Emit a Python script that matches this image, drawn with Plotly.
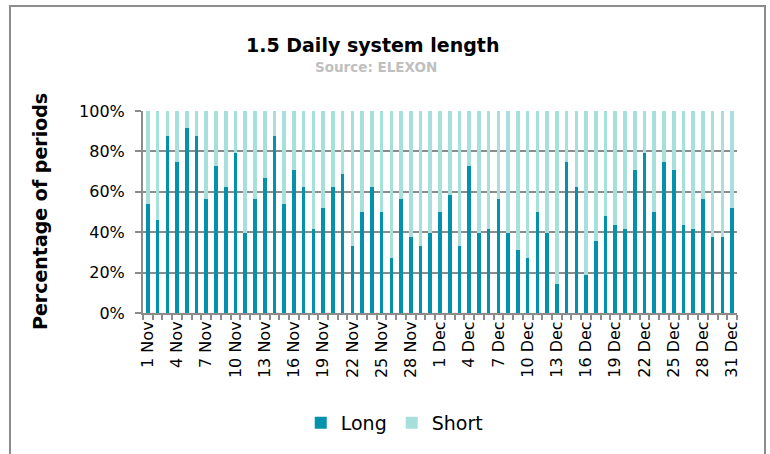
import plotly.graph_objects as go

days_nov = [f"{d} Nov" for d in range(1, 31)]
days_dec = [f"{d} Dec" for d in range(1, 32)]
categories = days_nov + days_dec

long_pct = [
    54.2, 45.8, 87.5, 75.0, 91.7, 87.5, 56.25, 72.9, 62.5, 79.2,
    39.6, 56.25, 66.7, 87.5, 54.2, 70.8, 62.5, 41.7, 52.1, 62.5,
    68.75, 33.3, 50.0, 62.5, 50.0, 27.1, 56.25, 37.5, 33.3, 39.6,
    50.0, 58.3, 33.3, 72.9, 39.6, 41.7, 56.25, 39.6, 31.25, 27.1,
    50.0, 39.6, 14.6, 75.0, 62.5, 18.75, 35.4, 47.9, 43.75, 41.7,
    70.8, 79.2, 50.0, 75.0, 70.8, 43.75, 41.7, 56.25, 37.5, 37.5,
    52.1,
]
short_pct = [100 - v for v in long_pct]
long_frac = [v / 100 for v in long_pct]
short_frac = [v / 100 for v in short_pct]

tick_labels = [c if i % 3 == 0 else "" for i, c in enumerate(categories)]

FONT = "Tahoma, 'DejaVu Sans', Verdana, sans-serif"
GRID = "#8c8c8c"

fig = go.Figure()
fig.add_trace(go.Bar(name="Long", x=categories, y=long_frac,
                     marker=dict(color="#0391ac", line=dict(width=0))))
fig.add_trace(go.Bar(name="Short", x=categories, y=short_frac,
                     marker=dict(color="#a6dfdb", line=dict(width=0))))

W, H = 770, 454
L, R, T, B = 143, 33, 111, 141
pw = W - L - R
ph = H - T - B

def px_x(x):
    return (x - L) / pw

def px_y(y):
    return (H - B - y) / ph

fig.update_layout(
    width=W, height=H,
    margin=dict(l=L, r=R, t=T, b=B),
    barmode="stack", bargap=0.63,
    paper_bgcolor="white", plot_bgcolor="white",
    font=dict(family=FONT, color="black", size=16),
    showlegend=True,
    legend=dict(orientation="h", xref="container", yref="container",
                x=0.512, y=1 - 423 / H, xanchor="center", yanchor="middle",
                font=dict(size=19, family=FONT), itemwidth=30,
                traceorder="normal"),
    xaxis=dict(
        type="category", tickmode="array", tickvals=categories,
        ticktext=tick_labels, tickangle=-90, tickson="boundaries",
        ticks="outside", ticklen=5, tickcolor=GRID, tickwidth=1.5,
        showline=True, linecolor=GRID, linewidth=2,
        showgrid=False, tickfont=dict(size=16, family=FONT),
    ),
    yaxis=dict(
        range=[0, 1], dtick=0.2, tickformat=".0%",
        showgrid=True, gridcolor=GRID, gridwidth=2,
        showline=True, linecolor=GRID, linewidth=2,
        ticks="outside", ticklen=6, tickcolor=GRID, tickwidth=2,
        ticklabelstandoff=7,
        tickfont=dict(size=16, family=FONT), zeroline=False,
    ),
    annotations=[
        dict(text="<b>1.5 Daily system length</b>", xref="paper", yref="paper",
             x=px_x(372), y=px_y(45), showarrow=False,
             font=dict(size=19, family=FONT, color="black"),
             xanchor="center", yanchor="middle"),
        dict(text="<b>Source: ELEXON</b>", xref="paper", yref="paper",
             x=px_x(376), y=px_y(67), showarrow=False,
             font=dict(size=13.5, family=FONT, color="#bfbfbf"),
             xanchor="center", yanchor="middle"),
        dict(text="<b>Percentage of periods</b>", xref="paper", yref="paper",
             x=px_x(40), y=px_y(212), showarrow=False, textangle=-90,
             font=dict(size=19, family=FONT, color="black"),
             xanchor="center", yanchor="middle"),
    ],
    shapes=[
        dict(type="rect", xref="paper", yref="paper",
             x0=px_x(10), x1=px_x(765), y0=px_y(470), y1=px_y(6),
             line=dict(color="#8c8c8c", width=2), fillcolor="rgba(0,0,0,0)",
             layer="below"),
    ],
)

fig.write_html("out.html", config={"displayModeBar": False},
               post_script="document.body.style.margin='0';document.body.style.overflow='hidden';")
